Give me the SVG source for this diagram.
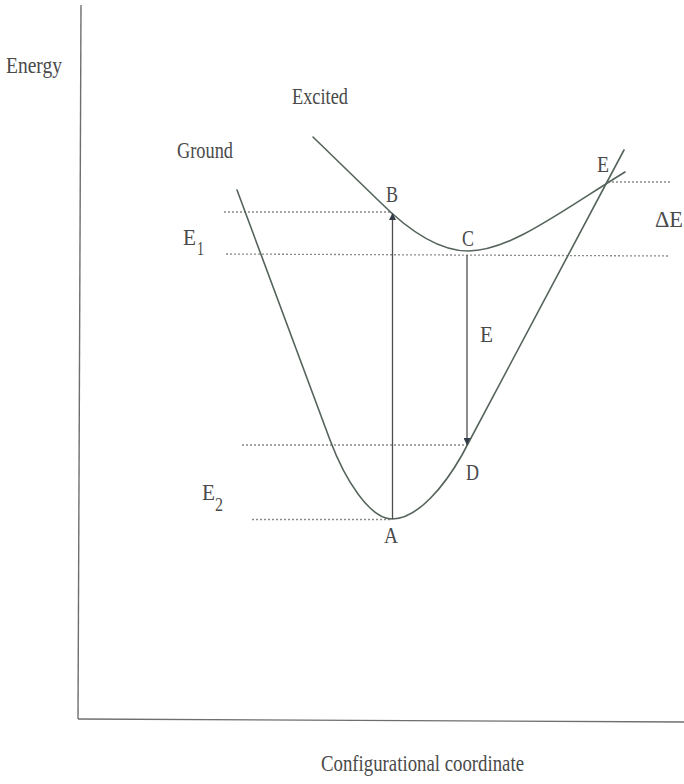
<svg xmlns="http://www.w3.org/2000/svg" width="684" height="784" viewBox="0 0 684 784">
<defs>
<style>
.t{font-family:"Liberation Serif","Times New Roman",serif;font-size:24px;fill:#4a4a4a}
.ts{font-family:"Liberation Serif","Times New Roman",serif;font-size:18px;fill:#4a4a4a}
.axis{stroke:#6e6e6e;stroke-width:1.4;fill:none}
.curve{stroke:#55645a;stroke-width:1.6;fill:none;stroke-linecap:round}
.dot{stroke:#8a8a8a;stroke-width:1.3;stroke-dasharray:2,2;fill:none}
.arr{stroke:#4e4e4e;stroke-width:1.3;fill:none}
</style>
<marker id="ah" viewBox="0 0 10 10" refX="10" refY="5" markerWidth="12" markerHeight="7" markerUnits="userSpaceOnUse" orient="auto">
<path d="M0,0 L10,5 L0,10 Z" fill="#333a48"/>
</marker>
</defs>
<rect width="684" height="784" fill="#ffffff"/>
<g id="axes">
<line class="axis" x1="81" y1="5" x2="78" y2="719"/>
<line class="axis" x1="78" y1="719" x2="684" y2="722"/>
</g>
<g id="levels">
<line class="dot" x1="224" y1="212" x2="392" y2="212"/>
<line class="dot" x1="226" y1="254" x2="670" y2="256"/>
<line class="dot" x1="608" y1="182" x2="670" y2="182"/>
<line class="dot" x1="242" y1="445" x2="467" y2="445"/>
<line class="dot" x1="252" y1="519.5" x2="392" y2="519.5"/>
</g>
<g id="ground">
<path class="curve" d="M237,190 L330,440 C345,480 370,519 392,519 C418,519 445,485 462,455 L624,150"/>
</g>
<g id="excited">
<path class="curve" d="M313,137 L380,202 C410,232 440,251 468,251 C510,251 560,212 625,172"/>
</g>
<g id="connectors">
<line class="arr" x1="392.5" y1="519" x2="392.5" y2="213" marker-end="url(#ah)"/>
<line class="arr" x1="467" y1="255" x2="467" y2="445" marker-end="url(#ah)"/>
</g>
<g id="labels">
<text class="t" x="6" y="73" textLength="56" lengthAdjust="spacingAndGlyphs">Energy</text>
<text class="t" x="292" y="104" textLength="56" lengthAdjust="spacingAndGlyphs">Excited</text>
<text class="t" x="177" y="158" textLength="56" lengthAdjust="spacingAndGlyphs">Ground</text>
<text class="t" x="386" y="202" textLength="12" lengthAdjust="spacingAndGlyphs">B</text>
<text class="t" x="462" y="246" textLength="12" lengthAdjust="spacingAndGlyphs">C</text>
<text class="t" x="597" y="172" textLength="12" lengthAdjust="spacingAndGlyphs">E</text>
<text class="t" x="655" y="227" textLength="28" lengthAdjust="spacingAndGlyphs">ΔE</text>
<text class="t" x="183" y="245" textLength="13" lengthAdjust="spacingAndGlyphs">E</text>
<text class="ts" x="197" y="255" textLength="7" lengthAdjust="spacingAndGlyphs">1</text>
<text class="t" x="480" y="342" textLength="13" lengthAdjust="spacingAndGlyphs">E</text>
<text class="t" x="466" y="480" textLength="13" lengthAdjust="spacingAndGlyphs">D</text>
<text class="t" x="202" y="500" textLength="13" lengthAdjust="spacingAndGlyphs">E</text>
<text class="ts" x="215" y="511" textLength="8" lengthAdjust="spacingAndGlyphs">2</text>
<text class="t" x="384" y="543" textLength="14" lengthAdjust="spacingAndGlyphs">A</text>
<text class="t" x="321" y="771" textLength="203" lengthAdjust="spacingAndGlyphs">Configurational coordinate</text>
</g>
</svg>
